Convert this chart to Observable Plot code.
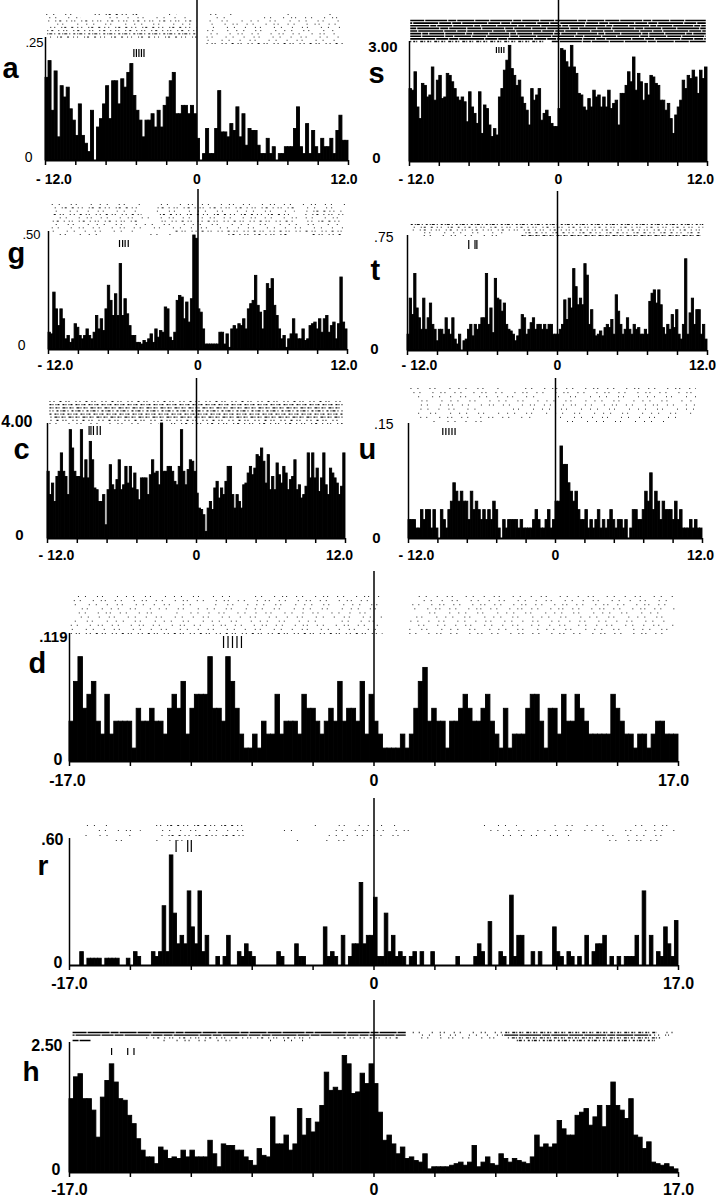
<!DOCTYPE html>
<html><head><meta charset="utf-8">
<script src="https://cdn.jsdelivr.net/npm/d3@7"></script>
<script src="https://cdn.jsdelivr.net/npm/@observablehq/plot@0.6"></script>
<style>
html,body{margin:0;padding:0;background:#fff;}
#chart{position:relative;width:719px;height:1199px;background:#fff;overflow:hidden;}
#chart svg{position:absolute;overflow:visible;background:transparent;}
</style></head><body><div id="chart"></div>
<script>
// ---------- tick values and labels ----------
const domain12 = [-12, 12];
const domain17 = [-17, 17];
const ticks12 = [-12, -9.6, -7.2, -4.8, -2.4, 0, 2.4, 4.8, 7.2, 9.6, 12];
const ticks17 = [-17, -13.6, -10.2, -6.8, -3.4, 0, 3.4, 6.8, 10.2, 13.6, 17];
const xLabels12 = ["- 12.0", "0", "12.0"];
const xLabels17 = ["-17.0", "0", "17.0"];
const letters = ["a", "s", "g", "t", "c", "u", "d", "r", "h"];
const yMaxValues = [0.25, 3.00, 0.50, 0.75, 4.00, 0.15, 0.119, 0.60, 2.50];
const yMaxLabels = [".25", "3.00", ".50", ".75", "4.00", ".15", ".119", ".60", "2.50"];

// ---------- histogram bin values (left to right, equal bins) ----------
const histA = [.168,.202,.101,.181,.047,.151,.128,.148,.104,.081,
 .050,.114,.050,.034,.017,.101,0,.067,.084,.114,
 .151,.084,.161,.161,.114,.165,.148,.178,.196,.131,
 .101,.081,.047,.081,.081,.094,.067,.101,.067,.111,
 .128,.161,.178,.094,.094,.111,.111,.094,.111,.094,
 .044,0,.013,.064,.013,.013,.064,.141,.057,.057,
 .047,.074,.060,.108,.047,.094,.030,.064,.060,.060,
 .030,.013,.013,.044,.013,.027,0,.013,.013,.027,
 .027,.027,.064,.108,.027,.013,.074,.013,.060,.027,
 .013,.044,.027,.027,.044,.013,.060,.091,.040,.040];
const histS = [1.81,1.77,2.23,1.35,1.06,1.94,1.89,1.60,1.65,2.35,
 1.52,2.02,2.14,1.56,1.60,2.19,2.14,1.98,1.81,1.60,
 1.52,1.60,1.48,0.98,1.73,1.35,1.19,0.94,1.73,0.69,
 1.40,1.31,0.90,0.61,0.81,0.65,1.60,1.81,2.27,2.52,
 2.89,2.31,2.14,1.89,2.02,1.60,1.44,1.27,0.90,1.81,
 1.52,1.65,1.81,1.02,1.19,1.27,1.11,0.94,0.86,0.86,
 1.31,2.81,2.77,2.48,2.35,2.89,2.35,2.19,1.69,1.65,
 1.35,1.27,1.56,1.35,1.77,1.60,1.65,1.35,1.60,1.35,
 1.77,1.31,1.44,1.52,0.90,1.69,1.69,1.89,2.23,1.98,
 2.60,1.77,2.19,1.98,1.52,1.94,1.65,2.14,2.10,1.94,
 1.89,1.52,1.52,1.27,1.44,1.06,0.69,1.15,1.35,1.52,
 2.02,1.81,2.14,2.06,2.27,2.10,1.69,2.27,2.06,2.35];
const histG = [.071,.064,.241,.170,.099,.170,.128,.043,.057,.028,
 .043,.107,.092,.057,.043,.057,.085,.057,.043,.071,
 .142,.085,.128,.078,.170,.270,.206,.142,.234,.142,
 .362,.142,.213,.149,.099,.057,.057,.028,.028,.021,
 .036,.028,.043,.064,.028,.085,.050,.078,.071,.178,
 .170,.050,.036,.071,.206,.227,.220,.128,.199,.114,
 .213,.483,.469,
 .170,.156,.085,.021,.021,.021,.021,.021,.021,.071,
 .071,.021,.064,.007,.085,.099,.085,.107,.099,.128,
 .085,.170,.192,.206,.312,.185,.156,.085,.163,.277,
 .256,.298,.185,.142,.085,.043,.057,.007,.043,.064,
 .128,.064,.043,.043,.085,.036,.043,.099,.107,.114,
 .085,.128,.071,.128,.142,.071,.099,.114,.043,.107,
 .305,.114,.085];
const histT = [.103,.338,.231,.499,.274,.210,.135,.338,.135,.210,
 .306,.167,.135,.060,.135,.135,.103,.210,.135,.103,
 .210,.071,.039,.103,0,.060,.071,.135,.167,.092,
 .167,.135,.167,.210,.210,.499,.167,.274,.113,.467,
 .338,.327,.253,.306,.167,.135,.124,.103,.060,.092,
 .135,.231,.210,.103,.135,.178,.210,.135,.167,.167,
 .135,.167,.135,.167,.167,.103,.103,
 .103,.135,.167,.327,.199,.338,.274,.531,.413,.295,
 .338,.295,.563,.488,.167,.263,.135,.092,.103,.124,
 .092,.146,.167,.146,.199,.103,.360,.253,.167,.103,
 .135,.210,.135,.103,.167,.135,.146,.103,.103,.135,
 .103,.317,.370,.392,.306,.392,.295,.146,.103,.167,
 .135,.231,.146,.263,.103,.071,.167,.595,.103,.242,
 .338,.167,.263,.263,.103,.167,.071];
const histC = [2.32,1.51,1.91,1.27,2.14,2.32,2.96,2.32,2.14,1.51,
 3.77,3.13,2.32,2.14,2.14,3.77,2.09,2.72,2.09,3.36,
 2.72,1.74,1.68,1.27,1.27,1.51,0.46,1.68,2.55,1.85,
 1.68,2.03,2.72,1.68,1.85,2.49,1.91,2.49,1.74,2.26,
 1.68,1.33,2.09,2.09,2.09,1.51,2.20,2.72,2.26,2.32,
 1.85,4.00,2.32,2.32,2.49,2.49,2.32,1.97,1.85,2.49,
 3.77,2.32,1.85,2.38,2.72,2.67,2.32,
 1.56,1.04,0.99,0.81,0.23,1.04,1.27,0.99,1.74,1.97,
 1.39,1.74,1.51,1.97,2.49,2.49,1.51,1.04,1.51,1.27,
 1.04,1.85,1.91,2.26,2.49,2.20,2.43,2.90,2.84,3.13,
 2.67,1.91,2.90,1.68,2.14,1.68,2.61,2.20,1.91,2.49,
 2.26,1.68,2.03,2.14,2.72,1.68,1.85,1.39,1.51,1.80,
 2.96,2.09,2.96,2.09,2.43,1.62,2.09,2.96,1.85,1.51,
 2.43,2.26,2.09,1.91,1.51,1.80,2.96];
const histU = [.024,.024,.024,.013,.013,.037,.024,.037,.037,.013,
 .037,.013,0,.037,.024,.013,.037,.048,.072,.061,
 .048,.061,.048,.048,.024,.061,.037,.048,.037,.024,
 .037,.024,.037,.024,.048,.037,.013,0,.024,.013,
 .024,.024,.024,.024,.013,.024,.013,.013,.013,.013,
 .024,.037,.024,.013,.013,.024,.037,.013,.024,
 .048,.048,.120,.096,.096,.072,.061,.048,.061,.037,
 .024,.024,.037,.013,.024,.013,.024,.037,.013,.024,
 .013,.024,.037,.024,.013,.024,.024,.013,.024,0,
 .013,.037,.037,.024,.024,.037,.061,.048,.085,.037,
 .061,.048,.024,.048,.037,.037,.037,.024,.048,.024,
 .037,.013,.013,.013,.024,.013,.024,.013,.013];
const histD = [.037,.074,.097,.049,.062,.074,.037,.025,.062,.025,
 .037,.037,.037,.037,.012,.049,.037,.037,.049,.037,
 .037,.025,.049,.062,.049,.074,.025,.049,.062,.062,
 .062,.097,.049,.049,.037,.097,.074,.049,.025,.012,
 .012,.025,.012,.037,.025,.025,.062,.025,.037,.037,
 .037,.025,.062,.049,.049,.037,.025,.037,.049,.037,
 .074,.037,.049,.049,.037,.074,.025,.062,
 .037,.025,.012,.012,.012,.012,.025,.012,.025,.049,
 .074,.087,.037,.049,.037,.037,.012,.037,.037,.049,
 .062,.049,.037,.037,.049,.062,.037,.025,.012,.049,
 .012,.025,.025,.025,.049,.062,.062,.037,.012,.049,
 .049,.025,.062,.037,.037,.062,.049,.037,.025,.025,
 .025,.025,.025,.062,.049,.037,.025,.025,.012,.025,
 .025,.012,.025,.037,.037,.025,.025,.025];
const histR = [0,0,0,.063,0,.032,.032,.032,.032,0,
 .032,.032,.032,.032,0,0,.032,0,.063,.04,
 0,0,0,.063,.04,.063,.28,.063,.52,.245,
 .10,.14,.10,.35,.18,.10,.35,.063,.14,0,
 0,.04,0,.04,.14,0,0,.063,.04,.10,
 .063,.04,0,0,0,0,0,0,.063,.04,
 0,0,0,.10,.04,.04,0,0,0,0,
 0,.18,.04,.063,.04,0,.14,0,.04,.10,
 .10,.39,.10,.14,.14,.32,.04,.04,.245,.063,
 .14,.04,.063,.04,0,.04,.063,0,.063,0,
 0,.063,0,0,0,0,0,0,.04,0,
 0,0,0,.04,.10,.063,0,.205,0,0,
 .063,.04,0,.33,.04,.14,.14,0,0,.063,
 0,.063,0,0,0,.18,.063,.04,0,.063,
 .04,0,.04,0,.14,0,.063,.10,.10,.14,
 0,.04,0,.04,0,.04,.04,.04,.14,0,
 .35,0,.14,0,.063,.04,.18,.10,.04,.21];
const histH = [1.41,1.83,1.89,1.41,1.41,1.19,0.67,1.44,1.76,2.08,
 1.73,1.41,1.38,1.09,0.93,0.64,0.42,0.29,0.29,0.16,
 0.48,0.42,0.26,0.29,0.26,0.42,0.29,0.42,0.29,0.29,
 0.29,0.61,0.35,0.10,0.54,0.51,0.51,0.42,0.42,0.29,
 0.22,0.13,0.45,0.32,0.29,1.06,0.54,0.54,0.71,0.42,
 0.54,1.22,0.71,1.03,0.77,0.96,1.28,1.92,1.57,1.63,
 1.57,2.24,2.08,1.51,1.54,1.90,1.70,2.08,
 1.70,1.15,0.61,0.71,0.54,0.35,0.48,0.26,0.29,0.22,
 0.19,0.35,0.06,0.10,0.10,0.10,0.10,0.13,0.16,0.19,
 0.13,0.19,0.51,0.10,0.19,0.29,0.16,0.13,0.35,0.26,
 0.19,0.26,0.22,0.19,0.16,0.29,0.71,0.48,0.54,0.48,
 0.54,0.99,0.83,0.71,0.71,1.09,1.15,1.22,0.90,1.06,
 1.28,0.87,1.28,1.73,1.28,1.19,1.03,1.41,0.71,0.67,
 0.45,0.58,0.19,0.16,0.13,0.16,0.10,0.06];

// ---------- stimulus event marks (s) ----------
const eventsA = [-5.0, -4.8, -4.6, -4.4, -4.2];
const eventsS = [-5.0, -4.8, -4.6, -4.4];
const eventsG = [-6.3, -6.05, -5.85, -5.6];
const eventsT = [-7.1, -6.6, -6.45];
const eventsC = [-8.65, -8.5, -8.3, -8.0, -7.75];
const eventsU = [-9.2, -8.95, -8.7, -8.45, -8.2];
const eventsD = [-8.4, -8.15, -7.9, -7.65, -7.4];
const eventsR = [-11.05, -10.4, -10.2];
const eventsH = [-14.65, -13.75, -13.4];

// ---------- raster rows: [start, end, density 1..4] ----------
const rasterA = [
 [[-11.9,-9.2,1],[-8.3,-4.7,2],[-3.2,-1.6,1],[0.3,2.9,1],[6.9,7.4,1],[10.3,11.6,1]],
 [[-11.9,-9.2,1],[-7.6,-0.8,1],[1.6,2.9,1],[4.8,11.6,1]],
 [[-11.9,0,2],[0.8,11.6,1]],
 [[-11.9,0,1],[0.8,11.6,1]],
 [[-11.9,0,2],[1.3,11.6,1]],
 [[-11.9,0,2],[0.3,11.3,1]],
 [[-11.9,0,3],[0.8,11.3,1]],
 [[-11.6,0,2],[0.8,11.6,1]],
 [[0.8,11.6,1]],
 [[0.8,11.6,2]]];
const rasterS = [
 [[-11.9,11.9,4]],[[-11.9,11.9,4]],[[-11.9,11.9,4]],[[-11.9,11.9,4]],[[-11.9,11.9,4]],
 [[-11.9,11.9,4]],[[-11.9,11.9,4]],[[-11.9,11.9,4]],[[-11.9,-1,3],[-0.5,11.9,4]]];
const rasterG = [
 [[-11.7,-4.5,1],[-3.5,11.9,1]],
 [[-11.7,-4.5,2],[-3.2,7.8,2],[8.8,11.7,1]],
 [[-11.7,-4.5,1],[-3.5,7.8,1],[8.5,11.7,2]],
 [[-11.7,-4.5,2],[-3.5,7.8,2],[8.5,11.7,2]],
 [[-11.7,11.7,1]],
 [[-11.7,-4.5,2],[-3.2,7.8,2],[8.5,11.7,2]],
 [[-11.7,11.7,1]],
 [[-11.7,-4.5,1],[-3.5,11.7,1]],
 [[-11.7,-5,1],[-2,11.7,2]],
 [[-11.7,-8,1],[-4.5,-2,1],[2,7.5,2],[9,11.7,2]]];
const rasterT = [
 [[-11.7,11.7,3]],
 [[-11.7,-7.8,2],[-7.4,11.7,2]],
 [[-11.7,11.7,2]],
 [[-11.5,-4,1],[-3,11.7,2]],
 [[-11.3,-4.5,1],[-3,11.5,3]]];
const rasterC = [
 [[-11.8,11.8,2]],[[-11.8,11.8,3]],[[-11.8,11.8,3]],[[-11.8,11.8,3]],
 [[-11.8,11.8,3]],[[-11.8,11.8,3]],[[-11.8,11.8,2]],[[-11.8,-3,1],[-2,11.8,2]]];
const rasterU = [
 [[-11.8,-4,1],[-3,11.5,1]],
 [[-11.8,11.6,1]],
 [[-11.5,-1,1],[0,11.6,1]],
 [[-11.8,11.6,1]],
 [[-11.6,11.6,1]],
 [[-11.8,-6,1],[-4,11.6,1]],
 [[-11.5,11.5,1]],
 [[-11,-2,1],[0,10,1]],
 [[-10,-6,1],[0,9,1]]];
const rasterD = [
 [[-16.5,-8,1],[-7,0.5,1],[1.8,16.8,1]],
 [[-16.9,0.3,1],[2.3,16.8,1]],
 [[-16.9,-10,1],[-9,0.5,1],[2,16.5,1]],
 [[-16.9,0.5,1],[2,16.8,1]],
 [[-16.9,-12,1],[-11,0,1],[2.5,16,1]],
 [[-16.9,0.5,1],[2,16.8,1]],
 [[-16.9,-3,1],[-2,0.5,1],[1.5,16.3,1]],
 [[-16.9,0.5,1],[2.5,16.8,1]],
 [[-16.9,0.5,1],[2,16.5,1]],
 [[-16.9,0.5,2],[1.5,16.5,1]]];
const rasterR = [
 [[-16,-14.7,1],[-12.3,-7,2],[-4,-3,1],[-2.5,-0.2,1],[0.2,1.5,1],[6,8,1],[10,13,1],[14.5,16.5,1]],
 [[-15.5,-13,1],[-12.3,-7,1],[-5,-4,1],[-2.5,2.4,1],[5.8,13,1],[13.5,16.8,1]],
 [[-16.3,-14.8,1],[-13.8,-13,1],[-12,-7,2],[-3,-0.3,1],[0,1.5,1],[4.5,4.8,1],[6.5,11,1],[12.5,16.5,1]],
 [[-15,-14,1],[-12.4,-10.2,1],[-4.5,-4.2,1],[-2.8,-1,1],[13,16.4,1]]];
const rasterH = [
 [[-16.8,1.8,4],[1.8,7.3,1],[7.3,15.8,3],[15.8,16.8,1]],
 [[-16.8,1.8,4],[2.2,7.3,1],[7.3,15.5,4],[15.5,16.5,2]],
 [[-12.8,-3.5,2],[-2,1.5,2],[2.5,7,1],[7.5,16,3]],
 [[-16.8,-15.8,4],[-12,-8,1],[-6,-3.8,1],[8,15.7,3]]];

// ---------- panel layout (page pixels) ----------
const panels = [
 {values: histA, events: eventsA, raster: rasterA, domain: domain12, ticks: ticks12, xLabels: xLabels12,
  box:[0,0,360,186], xL:45, xR:348, base:160, top:37, zeroTop:0, rast:[14,43], ev:[49,57], rw:1,
  yMax:{right:43, cy:42.5, size:13, weight:"normal"}, yZero:{right:32, cy:157, size:14, weight:"normal"},
  xLab:{cy:179, size:14, dx:[8.5,0,-4.5]}, letter:{x:2, base:77, size:29}},
 {values: histS, events: eventsS, raster: rasterS, domain: domain12, ticks: ticks12, xLabels: xLabels12,
  box:[360,0,359,186], xL:409, xR:707, base:161, top:41, zeroTop:0, rast:[20,41], ev:[47,53], rw:1.6,
  yMax:{right:397, cy:47, size:15, weight:"bold"}, yZero:{right:380, cy:158, size:15, weight:"bold"},
  xLab:{cy:179, size:14, dx:[7,0,-7]}, letter:{x:368, base:82, size:29}},
 {values: histG, events: eventsG, raster: rasterG, domain: domain12, ticks: ticks12, xLabels: xLabels12,
  box:[0,186,360,186], xL:48, xR:347, base:349, top:231, zeroTop:189, rast:[204,234], ev:[240,247], rw:1,
  yMax:{right:40, cy:234, size:13, weight:"normal"}, yZero:{right:25, cy:345, size:14, weight:"normal"},
  xLab:{cy:365, size:14, dx:[7,0,-3.5]}, letter:{x:7, base:262, size:29}},
 {values: histT, events: eventsT, raster: rasterT, domain: domain12, ticks: ticks12, xLabels: xLabels12,
  box:[360,186,359,186], xL:407, xR:707, base:350, top:235, zeroTop:191, rast:[224,235], ev:[240,249], rw:1,
  yMax:{right:393, cy:237, size:14, weight:"normal"}, yZero:{right:378, cy:349, size:15, weight:"bold"},
  xLab:{cy:365, size:14, dx:[12,0,-5]}, letter:{x:370, base:279, size:29}},
 {values: histC, events: eventsC, raster: rasterC, domain: domain12, ticks: ticks12, xLabels: xLabels12,
  box:[0,372,360,190], xL:47, xR:345, base:538, top:423, zeroTop:378, rast:[401,423], ev:[426,435], rw:1.2,
  yMax:{right:32, cy:421, size:16, weight:"bold"}, yZero:{right:23, cy:535, size:15, weight:"bold"},
  xLab:{cy:555, size:14, dx:[9,0,-6]}, letter:{x:13, base:458, size:29}},
 {values: histU, events: eventsU, raster: rasterU, domain: domain12, ticks: ticks12, xLabels: xLabels12,
  box:[360,372,359,190], xL:408, xR:702, base:538, top:423, zeroTop:378, rast:[388,421], ev:[428,435], rw:1,
  yMax:{right:393, cy:424, size:14, weight:"normal"}, yZero:{right:380, cy:538, size:15, weight:"bold"},
  xLab:{cy:555, size:14, dx:[8,0,-2]}, letter:{x:358, base:458, size:29}},
 {values: histD, events: eventsD, raster: rasterD, domain: domain17, ticks: ticks17, xLabels: xLabels17,
  box:[0,562,719,228], xL:69, xR:678, base:761, top:633, zeroTop:571, rast:[596,633], ev:[636,648], rw:1,
  yMax:{right:67, cy:636.5, size:15, weight:"bold"}, yZero:{right:62, cy:759, size:16, weight:"bold"},
  xLab:{cy:780, size:16, dx:[-2,0,-5]}, letter:{x:28, base:672, size:29}},
 {values: histR, events: eventsR, raster: rasterR, domain: domain17, ticks: ticks17, xLabels: xLabels17,
  box:[0,790,719,202], xL:69, xR:678, base:965, top:838, zeroTop:798, rast:[825,840], ev:[840,852], rw:1,
  yMax:{right:63, cy:839, size:16, weight:"bold"}, yZero:{right:62, cy:962, size:16, weight:"bold"},
  xLab:{cy:983, size:16, dx:[0,0,0]}, letter:{x:37, base:874.5, size:28}},
 {values: histH, events: eventsH, raster: rasterH, domain: domain17, ticks: ticks17, xLabels: xLabels17,
  box:[0,992,719,207], xL:69, xR:678, base:1172, top:1042, zeroTop:1000, rast:[1032,1040], ev:[1048,1055], rw:1.4,
  yMax:{right:62, cy:1045.5, size:16, weight:"bold"}, yZero:{right:60, cy:1169, size:16, weight:"bold"},
  xLab:{cy:1189, size:16, dx:[0,0,0]}, letter:{x:22, base:1080, size:28}}
];

const FONT = '"Liberation Sans", Arial, Helvetica, sans-serif';
const dashStyle = {
  1: ["1 6 1 11 1 4 1 14 1 8", "1 9 1 5 1 12 1 7 1 3", "1 4 1 13 1 6 1 10 1 9"],
  2: ["1 3 1 5 2 4 1 2 1 6", "2 4 1 3 1 6 1 2 2 5", "1 2 1 6 1 3 2 5 1 4"],
  3: ["2 2 1 1 3 2 1 3", "1 1 2 3 2 1 1 2", "3 1 1 2 2 1 1 3"],
  4: ["14 1 22 1 8 1 17 1", "9 1 25 1 12 1", "20 1 6 1 15 1"]
};
const rasterColor = {1: "#222", 2: "#1a1a1a", 3: "#111", 4: "#000"};

const chart = document.getElementById("chart");

panels.forEach((p, idx) => {
  const [L, T, Wd, Ht] = p.box;
  const [t0, t1] = p.domain;
  const ymax = yMaxValues[idx];
  const n = p.values.length, bw = (t1 - t0) / n;
  const bins = p.values.map((v, i) => ({x1: t0 + i * bw, x2: t0 + (i + 1) * bw, v}));
  const val = py => ymax * (p.base - py) / (p.base - p.top);
  const marks = [];

  // raster
  const nRows = p.raster.length;
  p.raster.forEach((row, ri) => {
    const py = nRows > 1 ? p.rast[0] + ri * (p.rast[1] - p.rast[0]) / (nRows - 1) : p.rast[0];
    row.forEach((seg, si) => {
      const variants = dashStyle[seg[2]];
      marks.push(Plot.ruleY([{y: val(py), a: seg[0], b: seg[1]}], {
        y: "y", x1: "a", x2: "b", stroke: rasterColor[seg[2]], strokeWidth: p.rw,
        strokeDasharray: variants[(ri + si) % variants.length], strokeDashoffset: (ri * 7 + si * 3) % 13
      }));
    });
  });

  // stimulus marks
  marks.push(Plot.ruleX(p.events, {x: d => d, y1: () => val(p.ev[0]), y2: () => val(p.ev[1]), stroke: "#000", strokeWidth: 1.2}));

  // histogram bars
  marks.push(Plot.rectY(bins, {x1: "x1", x2: "x2", y: "v", fill: "#000", stroke: "#000", strokeWidth: 0.9}));

  // baseline, y axis line, zero line, ticks
  marks.push(Plot.ruleY([0], {x1: () => t0, x2: () => t1, stroke: "#000", strokeWidth: 2}));
  marks.push(Plot.ruleX([t0], {y1: 0, y2: () => ymax, stroke: "#000", strokeWidth: 1.5}));
  marks.push(Plot.ruleX([0], {y1: 0, y2: () => val(p.zeroTop), stroke: "#000", strokeWidth: 1.5}));
  marks.push(Plot.ruleX(p.ticks, {x: d => d, y1: 0, y2: () => val(p.base + 5), stroke: "#000", strokeWidth: 1.5}));

  // x labels
  const lx = [t0, 0, t1];
  lx.forEach((tv, k) => {
    marks.push(Plot.text([{t: tv, s: p.xLabels[k]}], {
      x: "t", y: () => 0, text: "s", dx: p.xLab.dx[k], dy: p.xLab.cy - p.base,
      textAnchor: "middle", fontSize: p.xLab.size, fontWeight: "bold", fontFamily: FONT, fill: "#000"
    }));
  });

  // y labels
  marks.push(Plot.text([{y: ymax, s: yMaxLabels[idx]}], {
    x: () => t0, y: "y", text: "s", textAnchor: "end", dx: p.yMax.right - p.xL, dy: p.yMax.cy - p.top,
    fontSize: p.yMax.size, fontWeight: p.yMax.weight, fontFamily: FONT, fill: "#000"
  }));
  marks.push(Plot.text([{y: 0, s: "0"}], {
    x: () => t0, y: "y", text: "s", textAnchor: "end", dx: p.yZero.right - p.xL, dy: p.yZero.cy - p.base,
    fontSize: p.yZero.size, fontWeight: p.yZero.weight, fontFamily: FONT, fill: "#000"
  }));

  // panel letter
  marks.push(Plot.text([letters[idx]], {
    text: d => d, frameAnchor: "top-left", dx: p.letter.x - L, dy: p.letter.base - T,
    textAnchor: "start", lineAnchor: "bottom", fontSize: p.letter.size, fontWeight: "bold", fontFamily: FONT, fill: "#000"
  }));

  const svg = Plot.plot({
    width: Wd, height: Ht,
    marginTop: 0, marginRight: 0, marginBottom: 0, marginLeft: 0,
    x: {domain: p.domain, range: [p.xL - L, p.xR - L], axis: null},
    y: {domain: [0, ymax], range: [p.base - T, p.top - T], axis: null},
    style: {background: "transparent", overflow: "visible", fontFamily: FONT},
    marks
  });
  svg.style.position = "absolute";
  svg.style.left = L + "px";
  svg.style.top = T + "px";
  chart.appendChild(svg);
});
</script></body></html>
